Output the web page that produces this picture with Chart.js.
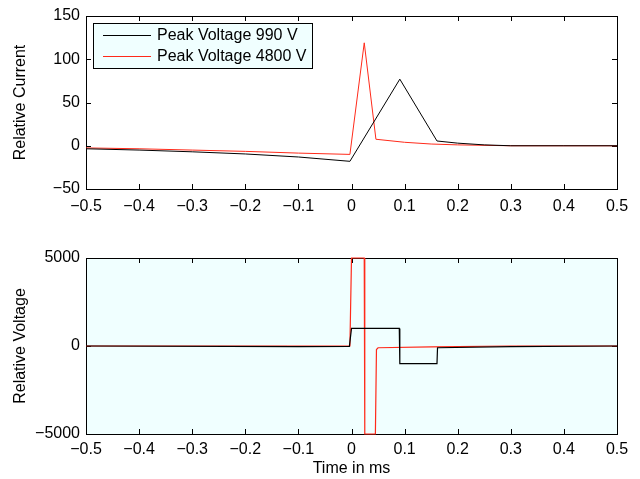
<!DOCTYPE html>
<html>
<head>
<meta charset="utf-8">
<script src="https://cdn.jsdelivr.net/npm/chart.js@4"></script>
<style>
body { margin: 0; background: #fff; }
#wrap { position: relative; width: 640px; height: 479px; }
canvas { position: absolute; left: 0; }
</style>
</head>
<body>
<div id="wrap">
<canvas id="currentChart" width="640" height="214" style="top:0"></canvas>
<canvas id="voltageChart" width="640" height="239" style="top:240px"></canvas>
</div>
<script>
const seriesLabels = ['Peak Voltage 990 V', 'Peak Voltage 4800 V'];
const seriesColors = ['#000000', '#ff2a1a'];

// top panel: relative current
const currentTime990 = [-0.5, -0.4, -0.3, -0.2, -0.1, -0.003, 0.091, 0.161, 0.2, 0.25, 0.3, 0.4, 0.5];
const current990 = [-3.5, -5, -7, -9.5, -13, -18, 77, 5.5, 3, 1, 0, 0, 0];
const currentTime4800 = [-0.5, -0.4, -0.3, -0.2, -0.1, -0.003, 0.024, 0.046, 0.1, 0.15, 0.2, 0.3, 0.4, 0.5];
const current4800 = [-2.5, -3.5, -5, -6.5, -8.5, -10, 119, 7.5, 4, 2, 1, 0, 0, 0];

// bottom panel: relative voltage (4800 V trace is clipped at +/-5000)
const voltageTime990 = [-0.5, -0.1, -0.004, 0, 0.09, 0.091, 0.161, 0.162, 0.3, 0.5];
const voltage990 = [0, -30, -20, 1000, 1000, -1000, -1000, -100, -30, 0];
const voltageTime4800 = [-0.5, -0.003, 0, 0.024, 0.025, 0.045, 0.047, 0.05, 0.15, 0.3, 0.5];
const voltage4800 = [0, 0, 5000, 5000, -5000, -5000, -200, -100, -50, 0, 0];

const xTicks = [-0.5, -0.4, -0.3, -0.2, -0.1, 0, 0.1, 0.2, 0.3, 0.4, 0.5];
const currentTicks = [-50, 0, 50, 100, 150];
const voltageTicks = [-5000, 0, 5000];

const font = { family: '"Liberation Sans", Arial, sans-serif', size: 16 };

function pts(xs, ys) {
    return xs.map((x, i) => ({ x: x, y: ys[i] }));
}

function fmt(v) {
    let s = Math.abs(v) < 1e-9 ? '0' : (Number.isInteger(v) ? String(v) : v.toFixed(1));
    return s.replace('-', '\u2212');
}

// box, inward ticks on all sides, optional background and legend
const matlabAxes = {
    id: 'matlabAxes',
    beforeDatasetsDraw(chart, args, opts) {
        const a = chart.chartArea;
        const ctx = chart.ctx;
        ctx.save();
        if (opts.fill) {
            ctx.fillStyle = opts.fill;
            ctx.fillRect(a.left, a.top, a.right - a.left, a.bottom - a.top);
        }
        ctx.strokeStyle = '#000';
        ctx.lineWidth = 1;
        ctx.strokeRect(Math.round(a.left) + 0.5, Math.round(a.top) + 0.5,
            Math.round(a.right - a.left), Math.round(a.bottom - a.top));
        const len = 5;
        ctx.beginPath();
        chart.scales.x.ticks.forEach(t => {
            const px = Math.round(chart.scales.x.getPixelForValue(t.value)) + 0.5;
            ctx.moveTo(px, a.bottom); ctx.lineTo(px, a.bottom - len);
            ctx.moveTo(px, a.top); ctx.lineTo(px, a.top + len);
        });
        chart.scales.y.ticks.forEach(t => {
            const py = Math.round(chart.scales.y.getPixelForValue(t.value)) + 0.5;
            ctx.moveTo(a.left, py); ctx.lineTo(a.left + len, py);
            ctx.moveTo(a.right, py); ctx.lineTo(a.right - len, py);
        });
        ctx.stroke();
        ctx.restore();
    },
    afterDatasetsDraw(chart, args, opts) {
        if (!opts.legend) return;
        const a = chart.chartArea;
        const ctx = chart.ctx;
        ctx.save();
        const lx = Math.round(a.left) + 7, ly = Math.round(a.top) + 7, lw = 219, lh = 45;
        ctx.fillStyle = '#f0ffff';
        ctx.fillRect(lx, ly, lw, lh);
        ctx.strokeStyle = '#000';
        ctx.lineWidth = 1;
        ctx.strokeRect(lx + 0.5, ly + 0.5, lw, lh);
        ctx.font = font.size + 'px ' + font.family;
        ctx.textBaseline = 'middle';
        chart.data.datasets.forEach((ds, i) => {
            const y = ly + 12 + i * 21;
            ctx.strokeStyle = seriesColors[i];
            ctx.beginPath();
            ctx.moveTo(lx + 10, y + 0.5); ctx.lineTo(lx + 58, y + 0.5);
            ctx.stroke();
            ctx.fillStyle = '#000';
            ctx.fillText(ds.label, lx + 64, y + 1);
        });
        ctx.restore();
    }
};

function makeChart(id, datasets, yTicks, yMin, yMax, yTitle, opts) {
    return new Chart(document.getElementById(id), {
        type: 'line',
        data: { datasets: datasets },
        plugins: [matlabAxes],
        options: {
            responsive: false,
            animation: false,
            layout: { padding: { top: opts.top, right: 23, left: 0, bottom: 0 } },
            scales: {
                x: {
                    type: 'linear', min: -0.5, max: 0.5,
                    afterBuildTicks: s => { s.ticks = xTicks.map(v => ({ value: v })); },
                    afterFit: s => { s.height = opts.xHeight; },
                    ticks: { color: '#000', font: font, padding: opts.xPad, maxRotation: 0, callback: v => fmt(v) },
                    grid: { display: false, drawTicks: false },
                    border: { display: false },
                    title: opts.xTitle ? { display: true, text: opts.xTitle, color: '#000', font: font, padding: { top: 2, bottom: 1 } } : { display: false }
                },
                y: {
                    min: yMin, max: yMax,
                    afterBuildTicks: s => { s.ticks = yTicks.map(v => ({ value: v })); },
                    afterFit: s => { s.width = 86; },
                    ticks: { color: '#000', font: font, padding: 6, callback: v => fmt(v) },
                    grid: { display: false, drawTicks: false },
                    border: { display: false },
                    title: { display: true, text: yTitle, color: '#000', font: font, padding: { top: 11 } }
                }
            },
            plugins: {
                legend: { display: false },
                tooltip: { enabled: false },
                matlabAxes: { fill: opts.fill, legend: opts.legend }
            },
            elements: { point: { radius: 0 }, line: { tension: 0 } }
        }
    });
}

makeChart('currentChart', [
    { label: seriesLabels[0], data: pts(currentTime990, current990), borderColor: seriesColors[0], borderWidth: 1 },
    { label: seriesLabels[1], data: pts(currentTime4800, current4800), borderColor: seriesColors[1], borderWidth: 1 }
], currentTicks, -50, 150, 'Relative Current',
    { top: 16, xHeight: 25, xPad: 8, fill: null, legend: true });

makeChart('voltageChart', [
    { label: seriesLabels[0], data: pts(voltageTime990, voltage990), borderColor: seriesColors[0], borderWidth: 1.2, clip: 2 },
    { label: seriesLabels[1], data: pts(voltageTime4800, voltage4800), borderColor: seriesColors[1], borderWidth: 1.2, clip: 2 }
], voltageTicks, -5000, 5000, 'Relative Voltage',
    { top: 18, xHeight: 45, xPad: 6, xTitle: 'Time in ms', fill: '#f0ffff', legend: false });
</script>
</body>
</html>
